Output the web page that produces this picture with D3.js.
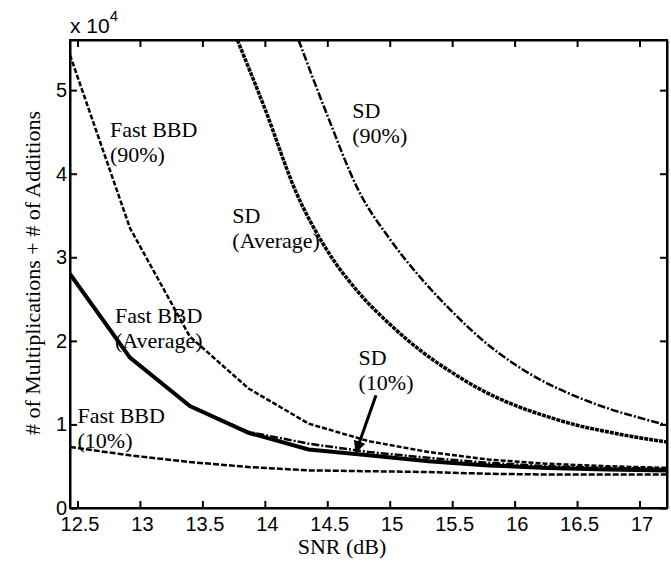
<!DOCTYPE html>
<html lang="en">
    <head>
        <meta charset="utf-8">
        <title>Complexity vs SNR</title>
        <script src="https://d3js.org/d3.v7.min.js"></script>
        <style>
            body { margin: 0; background: #fff; }
        </style>
    </head>
    <body>
        <script type="text/javascript">
        'use strict';

        //data (values in units of 10^4)
        var snrBBD = [12.44, 12.92, 13.40, 13.87, 14.35, 14.83, 15.31, 15.79, 16.26, 16.74, 17.22];
        var bbdAvg = [2.80, 1.80, 1.22, 0.90, 0.70, 0.63, 0.56, 0.51, 0.48, 0.46, 0.45];
        var bbd90  = [5.42, 3.35, 2.05, 1.43, 1.01, 0.80, 0.67, 0.58, 0.53, 0.50, 0.48];
        var bbd10  = [0.73, 0.63, 0.55, 0.49, 0.45, 0.44, 0.43, 0.41, 0.40, 0.40, 0.40];
        var sd10   = [2.80, 1.80, 1.22, 0.91, 0.77, 0.67, 0.60, 0.54, 0.50, 0.48, 0.47];

        var snrSDavg = [13.78, 14.0, 14.25, 14.5, 14.75, 15.0, 15.25, 15.5, 15.75, 16.0, 16.25, 16.5, 16.75, 17.0, 17.22];
        var sdAvg    = [5.6, 4.78, 3.78, 3.08, 2.58, 2.20, 1.88, 1.62, 1.40, 1.23, 1.10, 0.99, 0.91, 0.84, 0.79];
        var snrSD90  = [14.27, 14.5, 14.75, 15.0, 15.25, 15.5, 15.75, 16.0, 16.25, 16.5, 16.75, 17.0, 17.22];
        var sd90     = [5.6, 4.70, 3.80, 3.22, 2.75, 2.35, 2.00, 1.72, 1.50, 1.33, 1.19, 1.08, 0.99];

        var xTicks = [12.5, 13, 13.5, 14, 14.5, 15, 15.5, 16, 16.5, 17];
        var yTicks = [0, 1, 2, 3, 4, 5];

        var serif = "'Liberation Serif', 'Times New Roman', Times, 'DejaVu Serif', serif";
        var sans = "'Liberation Sans', Arial, Helvetica, sans-serif";

        //size of chart
        var w = 671;
        var h = 564;
        var pLeft = 70, pRight = 667, pTop = 40, pBottom = 508;

        var xScale = d3.scaleLinear()
            .domain([12.44, 17.22])
            .range([pLeft, pRight]);
        var yScale = d3.scaleLinear()
            .domain([0, 5.6])
            .range([pBottom, pTop]);

        var svg = d3.select("body")
                    .append("svg")
                    .attr("width", w)
                    .attr("height", h);

        svg.append("clipPath")
            .attr("id", "clip")
            .append("rect")
            .attr("x", pLeft).attr("y", pTop)
            .attr("width", pRight - pLeft).attr("height", pBottom - pTop);

        function pairs(xs, ys) {
            return xs.map(function(x, i) { return [x, ys[i]]; });
        }

        var straight = d3.line()
            .x(function(d) { return xScale(d[0]); })
            .y(function(d) { return yScale(d[1]); });
        var smooth = d3.line()
            .curve(d3.curveMonotoneX)
            .x(function(d) { return xScale(d[0]); })
            .y(function(d) { return yScale(d[1]); });

        var series = [
            { pts: pairs(snrBBD, bbd10), gen: straight, width: 2.5, dash: "6,2" },
            { pts: pairs(snrBBD, bbd90), gen: straight, width: 2.5, dash: "5,2" },
            { pts: pairs(snrSDavg, sdAvg), gen: smooth, width: 3.5, dash: "4,1" },
            { pts: pairs(snrSD90, sd90), gen: smooth, width: 2.5, dash: "8,2,2,2" },
            { pts: pairs(snrBBD, sd10), gen: straight, width: 2.5, dash: "8,2,2,2" },
            { pts: pairs(snrBBD, bbdAvg), gen: straight, width: 4, dash: null }
        ];

        svg.append("g")
            .attr("clip-path", "url(#clip)")
            .selectAll("path")
            .data(series)
            .enter()
            .append("path")
            .attr("d", function(d) { return d.gen(d.pts); })
            .attr("fill", "none")
            .attr("stroke", "#000")
            .attr("stroke-width", function(d) { return d.width; })
            .attr("stroke-dasharray", function(d) { return d.dash; });

        //axes, ticks pointing inward on all sides
        svg.append("g")
            .attr("transform", "translate(0," + pBottom + ")")
            .call(d3.axisBottom(xScale).tickValues(xTicks).tickSizeInner(-7).tickSizeOuter(0).tickPadding(9)
                .tickFormat(d3.format("")));
        svg.append("g")
            .attr("transform", "translate(0," + pTop + ")")
            .call(d3.axisTop(xScale).tickValues(xTicks).tickSizeInner(-7).tickSizeOuter(0).tickFormat(""));
        svg.append("g")
            .attr("transform", "translate(" + pLeft + ",0)")
            .call(d3.axisLeft(yScale).tickValues(yTicks).tickSizeInner(-7).tickSizeOuter(0).tickPadding(5)
                .tickFormat(d3.format("d")));
        svg.append("g")
            .attr("transform", "translate(" + pRight + ",0)")
            .call(d3.axisRight(yScale).tickValues(yTicks).tickSizeInner(-7).tickSizeOuter(0).tickFormat(""));

        svg.selectAll(".domain").attr("stroke", "#000").attr("stroke-width", 2);
        svg.selectAll(".tick line").attr("stroke", "#000").attr("stroke-width", 2);
        svg.selectAll(".tick text")
            .attr("dx", "2px")
            .style("font-family", sans)
            .style("font-size", "20px")
            .attr("fill", "#000");

        //axis frame
        svg.append("rect")
            .attr("x", pLeft).attr("y", pTop)
            .attr("width", pRight - pLeft).attr("height", pBottom - pTop)
            .attr("fill", "none").attr("stroke", "#000").attr("stroke-width", 2);

        //exponent
        var expo = svg.append("text")
            .attr("x", pLeft).attr("y", 33)
            .style("font-family", sans)
            .style("font-size", "21px");
        expo.append("tspan").text("x 10");
        expo.append("tspan").style("font-size", "15px").attr("dy", "-12").text("4");

        //axis titles
        svg.append("text")
            .attr("x", 342).attr("y", 554)
            .attr("text-anchor", "middle")
            .style("font-family", serif)
            .style("font-size", "22px")
            .text("SNR (dB)");
        svg.append("text")
            .attr("transform", "translate(40,273) rotate(-90)")
            .attr("text-anchor", "middle")
            .style("font-family", serif)
            .style("font-size", "22px")
            .text("# of Multiplications + # of Additions");

        //curve labels
        var notes = [
            { x: 12.76, y: 4.44, lines: ["Fast BBD", "(90%)"] },
            { x: 14.70, y: 4.67, lines: ["SD", "(90%)"] },
            { x: 13.74, y: 3.41, lines: ["SD", "(Average)"] },
            { x: 12.80, y: 2.21, lines: ["Fast BBD", "(Average)"] },
            { x: 12.50, y: 1.02, lines: ["Fast BBD", "(10%)"] },
            { x: 14.75, y: 1.71, lines: ["SD", "(10%)"] }
        ];
        notes.forEach(function(n) {
            var t = svg.append("text")
                .attr("x", xScale(n.x))
                .attr("y", yScale(n.y))
                .style("font-family", serif)
                .style("font-size", "22px");
            n.lines.forEach(function(s, i) {
                t.append("tspan")
                    .attr("x", xScale(n.x))
                    .attr("dy", i === 0 ? 0 : 25)
                    .text(s);
            });
        });

        //arrow pointing at SD (10%)
        svg.append("defs").append("marker")
            .attr("id", "head")
            .attr("viewBox", "0 0 10 10")
            .attr("refX", 9).attr("refY", 5)
            .attr("markerWidth", 5).attr("markerHeight", 4)
            .attr("markerUnits", "strokeWidth")
            .attr("orient", "auto")
            .append("path")
            .attr("d", "M0,0 L10,5 L0,10 Z")
            .attr("fill", "#000");
        svg.append("line")
            .attr("x1", xScale(14.89)).attr("y1", yScale(1.35))
            .attr("x2", xScale(14.73)).attr("y2", yScale(0.67))
            .attr("stroke", "#000")
            .attr("stroke-width", 3)
            .attr("marker-end", "url(#head)");
        </script>
    </body>
</html>
